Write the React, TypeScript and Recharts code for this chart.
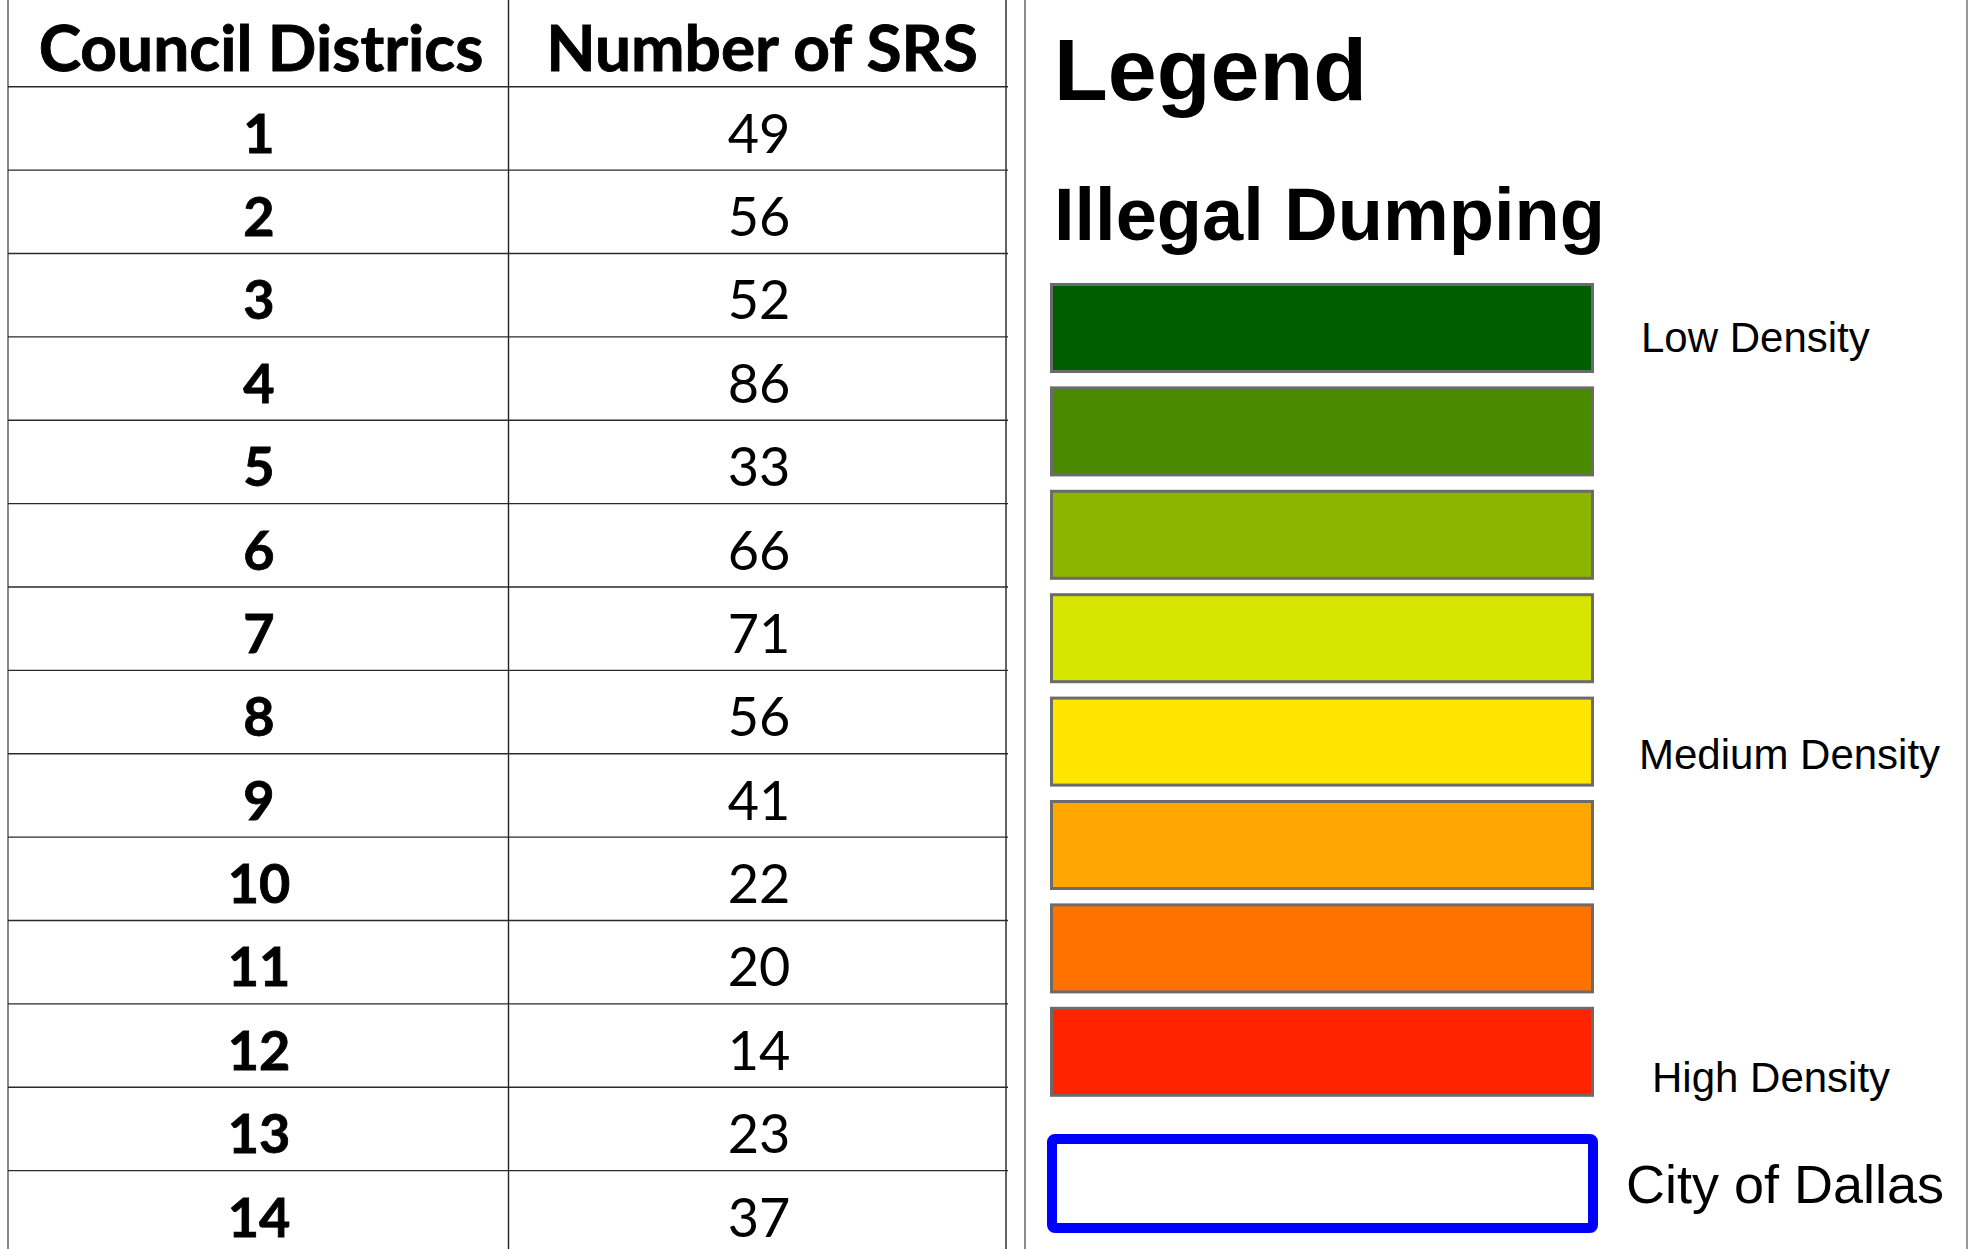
import { Bar, BarChart, XAxis, YAxis } from 'recharts';

// table values
const districts = ['1', '2', '3', '4', '5', '6', '7', '8', '9', '10', '11', '12', '13', '14'];
const srsCounts = [49, 56, 52, 86, 33, 66, 71, 56, 41, 22, 20, 14, 23, 37];
const tableHeaders = ['Council Districs', 'Number of SRS'];

// legend classes, low -> high
const densityClasses = [1, 2, 3, 4, 5, 6, 7, 8];
const densityColors = ['#005e00', '#4a8a00', '#8cb500', '#d6e600', '#ffe500', '#ffa700', '#ff7200', '#ff2300'];
const densityLabels = ['Low Density', '', '', '', 'Medium Density', '', '', 'High Density'];
const boundaryLabels = ['City of Dallas'];

const tableRows = districts.map((district, i) => ({ district, srs: srsCounts[i] }));
const legendRows = densityClasses.map((level, i) => ({ level, color: densityColors[i], label: densityLabels[i] }));
const boundaryRows = boundaryLabels.map((name) => ({ name, level: 1 }));

const W = 1974;
const H = 1249;
const tableFont = 'Lato, "Open Sans", sans-serif';
const legendFont = '"Liberation Sans", Arial, sans-serif';

// where each density label sits relative to its swatch
const labelPlacement: Record<string, { dx: number; dy: number }> = {
  'Low Density': { dx: 47, dy: 69 },
  'Medium Density': { dx: 45, dy: 72 },
  'High Density': { dx: 58, dy: 85 }
};

function TableRow(props: any) {
  const { y, payload } = props;
  return (
    <g>
      <line x1={8} x2={1008} y1={y} y2={y} stroke="#2a2a2a" strokeWidth={1.4} />
      <text
        x={259}
        y={y + 66}
        textAnchor="middle"
        fontFamily={tableFont}
        fontWeight={700}
        fontSize={54}
        fill="#000"
        stroke="#000"
        strokeWidth={0.8}
      >
        {payload.district}
      </text>
      <text x={759} y={y + 66} textAnchor="middle" fontFamily={tableFont} fontWeight={400} fontSize={54} fill="#000">
        {payload.srs}
      </text>
    </g>
  );
}

function Swatch(props: any) {
  const { y, height, background, payload } = props;
  const x0 = background?.x ?? 1050;
  const w = background?.width ?? 544;
  const place = labelPlacement[payload.label];
  return (
    <g>
      <rect x={x0 + 1.5} y={y + 1.5} width={w - 3} height={height - 3} fill={payload.color} stroke="#6b6b6b" strokeWidth={3} />
      {place && (
        <text x={x0 + w + place.dx} y={y + place.dy} fontFamily={legendFont} fontSize={42} fill="#000">
          {payload.label}
        </text>
      )}
    </g>
  );
}

function Outline(props: any) {
  const { y, height, background, payload } = props;
  const x0 = background?.x ?? 1052;
  const w = background?.width ?? 541;
  return (
    <g>
      <rect x={x0} y={y} width={w} height={height} rx={3} fill="#fff" stroke="#0000ff" strokeWidth={10} />
      <text x={1626} y={y + 64} fontFamily={legendFont} fontSize={54} fill="#000">
        {payload.name}
      </text>
    </g>
  );
}

export default function App() {
  return (
    <div style={{ position: 'absolute', left: 0, top: 0, width: W, height: H, overflow: 'hidden', background: '#fff' }}>
      <div style={{ position: 'absolute', left: 0, top: 0 }}>
        <BarChart
          width={W}
          height={1254}
          layout="vertical"
          data={tableRows}
          barCategoryGap={0}
          margin={{ top: 86.7, right: W - 1006, bottom: 0, left: 8 }}
        >
          <XAxis type="number" hide domain={[0, 100]} />
          <YAxis type="category" dataKey="district" hide />
          <line x1={8} x2={8} y1={0} y2={1254} stroke="#888" strokeWidth={2} />
          <line x1={508.5} x2={508.5} y1={0} y2={1254} stroke="#222" strokeWidth={1.4} />
          <line x1={1006} x2={1006} y1={0} y2={1254} stroke="#222" strokeWidth={1.4} />
          <line x1={1025} x2={1025} y1={0} y2={1254} stroke="#666" strokeWidth={1.5} />
          <line x1={1967} x2={1967} y1={0} y2={1254} stroke="#777" strokeWidth={1.5} />
          {tableHeaders.map((h, i) => (
            <text
              key={h}
              x={i === 0 ? 261 : 762}
              y={71}
              textAnchor="middle"
              fontFamily={tableFont}
              fontWeight={700}
              fontSize={64}
              fill="#000"
              stroke="#000"
              strokeWidth={0.9}
            >
              {h}
            </text>
          ))}
          <Bar dataKey="srs" shape={<TableRow />} isAnimationActive={false} />
        </BarChart>
      </div>
      <div style={{ position: 'absolute', left: 0, top: 0 }}>
        <BarChart
          width={W}
          height={H}
          layout="vertical"
          data={legendRows}
          barCategoryGap={6.7}
          margin={{ top: 276.3, right: W - 1594, bottom: H - 276.3 - 8 * 103.4, left: 1050 }}
        >
          <XAxis type="number" hide domain={[0, 8]} />
          <YAxis type="category" dataKey="level" hide />
          <text x={1054} y={100} fontFamily={legendFont} fontWeight={700} fontSize={88} fill="#000">
            Legend
          </text>
          <text x={1054} y={240} fontFamily={legendFont} fontWeight={700} fontSize={74} fill="#000">
            Illegal Dumping
          </text>
          <Bar dataKey="level" shape={<Swatch />} isAnimationActive={false} />
        </BarChart>
      </div>
      <div style={{ position: 'absolute', left: 0, top: 0 }}>
        <BarChart
          width={W}
          height={H}
          layout="vertical"
          data={boundaryRows}
          barCategoryGap={0}
          margin={{ top: 1139, right: W - 1593, bottom: H - 1228, left: 1052 }}
        >
          <XAxis type="number" hide domain={[0, 1]} />
          <YAxis type="category" dataKey="name" hide />
          <Bar dataKey="level" shape={<Outline />} isAnimationActive={false} />
        </BarChart>
      </div>
    </div>
  );
}
